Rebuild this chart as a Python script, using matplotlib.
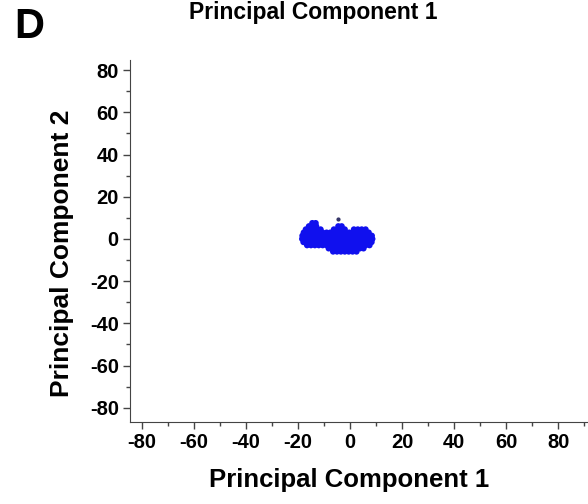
import numpy as np
import matplotlib.pyplot as plt
from matplotlib.ticker import MultipleLocator

plt.rcParams['font.family'] = ['Liberation Sans', 'DejaVu Sans']
plt.rcParams['axes.unicode_minus'] = False

# Principal component scores, row by row (PC2 level -> PC1 values)
rows_pc2 = [7.5, 6, 4.5, 3, 1.5, 0, -1.5, -3, -4.5, -6]
rows_pc1 = [
    [-14.5, -13.2],
    [-15.8, -14.4, -13, -4.5, -3.2],
    [-17, -15.6, -14.2, -12.8, -11.3, -6.2, -4.8, -3.4, -2, 1.5, 3, 4.5, 6],
    [-17.8, -16.3, -14.9, -13.5, -12, -10.5, -9, -7.6, -6.1, -4.7, -3.2, -1.8, -0.3,
     1.2, 2.7, 4.2, 5.7, 7.2],
    [-18.3, -16.8, -15.3, -13.8, -12.3, -10.8, -9.3, -7.8, -6.3, -4.8, -3.3, -1.8,
     -0.3, 1.2, 2.7, 4.2, 5.7, 7.2, 8.4],
    [-18.4, -16.9, -15.4, -13.9, -12.4, -10.9, -9.4, -7.9, -6.4, -4.9, -3.4, -1.9,
     -0.4, 1.1, 2.6, 4.1, 5.6, 7.1, 8.6],
    [-17.9, -16.4, -14.9, -13.4, -11.9, -10.4, -8.9, -7.4, -5.9, -4.4, -2.9, -1.4,
     0.1, 1.6, 3.1, 4.6, 6.1, 7.6, 8.3],
    [-16.5, -15, -13.5, -12, -10.5, -9, -7.5, -6, -4.5, -3, -1.5, 0, 1.5, 3, 4.5, 6, 7.5],
    [-8.2, -6.7, -5.2, -3.7, -2.2, -0.7, 0.8, 2.3, 3.8, 5.2],
    [-6.5, -5, -3.5, -2, -0.5, 1, 2.5],
]
outlier_pc1 = [-4.6]
outlier_pc2 = [9.2]

pc1 = [x for row in rows_pc1 for x in row]
pc2 = [y for y, row in zip(rows_pc2, rows_pc1) for _ in row]

fig = plt.figure(figsize=(5.88, 5.04), dpi=100)
ax = fig.add_axes([0.221, 0.163, 0.779, 0.718])

ax.scatter(pc1, pc2, s=20, color='#1010ee', edgecolors='none')
ax.scatter(outlier_pc1, outlier_pc2, s=4, color='#333366')

ax.set_xlim(-84.6, 91.5)
ax.set_ylim(-86.7, 84.8)
ax.set_xticks(np.arange(-80, 81, 20))
ax.set_yticks(np.arange(-80, 81, 20))
ax.xaxis.set_minor_locator(MultipleLocator(10))
ax.yaxis.set_minor_locator(MultipleLocator(10))
ax.tick_params(which='major', direction='out', length=5, width=1, color='#444444',
               labelsize=14.5, pad=3)
ax.tick_params(which='minor', direction='out', length=3, width=1, color='#444444')
for lab in ax.get_xticklabels() + ax.get_yticklabels():
    lab.set_fontweight('bold')

for s in ['top', 'right']:
    ax.spines[s].set_visible(False)
for s in ['left', 'bottom']:
    ax.spines[s].set_color('#444444')

ax.set_xlabel('Principal Component 1', fontsize=18.5, fontweight='bold', va='top')
ax.xaxis.set_label_coords(0.478, -0.127)
ax.set_ylabel('Principal Component 2', fontsize=19, fontweight='bold', va='center',
              rotation_mode='anchor')
ax.yaxis.set_label_coords(-0.149, 0.467)

fig.text(313 / 588, 1 - 13 / 504, 'Principal Component 1', fontsize=16.5,
         fontweight='bold', ha='center', va='center')
fig.text(14 / 588, 1 - 27 / 504, 'D', fontsize=30, fontweight='bold',
         ha='left', va='center')

plt.savefig('out.png', dpi=100)
